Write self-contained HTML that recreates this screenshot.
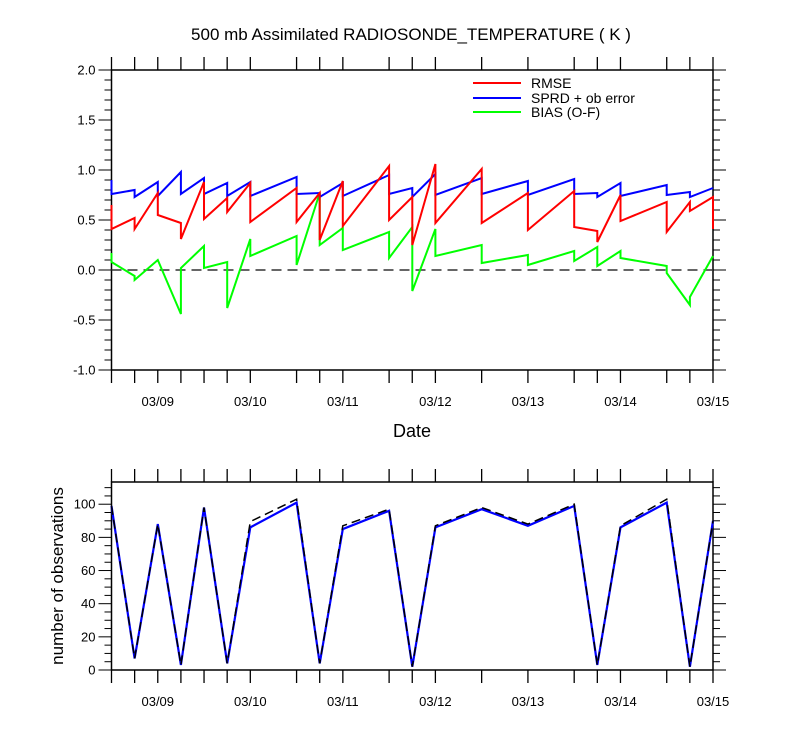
<!DOCTYPE html>
<html><head><meta charset="utf-8"><style>
html,body{margin:0;padding:0;background:#fff;}
svg{display:block;font-family:"Liberation Sans",sans-serif;}
</style></head><body>
<svg id="chart" width="800" height="750" viewBox="0 0 800 750" xmlns="http://www.w3.org/2000/svg">
<rect width="800" height="750" fill="#fff"/>
<text x="411" y="40" font-size="17" text-anchor="middle">500 mb Assimilated RADIOSONDE_TEMPERATURE ( K )</text>
<g id="topPanel"></g>
<g id="botPanel"></g>
<text x="412" y="437" font-size="18" text-anchor="middle">Date</text>
<text transform="translate(63,576) rotate(-90)" font-size="17" text-anchor="middle">number of observations</text>
<g>
<line x1="473" y1="83" x2="521" y2="83" stroke="#ff0000" stroke-width="2"/>
<text x="531" y="88" font-size="14">RMSE</text>
<line x1="473" y1="98" x2="521" y2="98" stroke="#0000ff" stroke-width="2"/>
<text x="531" y="103" font-size="14">SPRD + ob error</text>
<line x1="473" y1="112" x2="521" y2="112" stroke="#00ff00" stroke-width="2"/>
<text x="531" y="117" font-size="14">BIAS (O-F)</text>
</g>
</svg>
<script>
// time index (6-hourly steps from 03/08 12Z)
const times=[0,1,2,3,4,5,6,8,9,10,12,13,14,16,18,20,21,22,24,25,26];
const dateLabels=["03/09","03/10","03/11","03/12","03/13","03/14","03/15"];
const dateLabelTimes=[2,6,10,14,18,22,26];
// each time has [arriving value, departing value]
const rmseA=[0.65,0.52,0.77,0.47,0.88,0.72,0.87,0.82,0.77,0.89,1.04,0.73,1.06,1.01,0.77,0.79,0.39,0.75,0.68,0.68,0.73];
const rmseB=[0.41,0.41,0.55,0.31,0.51,0.58,0.48,0.48,0.30,0.44,0.50,0.25,0.47,0.47,0.40,0.43,0.28,0.49,0.38,0.59,0.41];
const sprdA=[0.90,0.80,0.88,0.98,0.92,0.87,0.88,0.93,0.77,0.87,0.95,0.82,0.96,0.92,0.89,0.91,0.77,0.87,0.85,0.78,0.82];
const sprdB=[0.76,0.73,0.74,0.76,0.76,0.74,0.74,0.76,0.73,0.74,0.76,0.73,0.75,0.76,0.75,0.76,0.73,0.74,0.75,0.73,0.82];
const biasA=[0.17,-0.06,0.10,-0.44,0.24,0.08,0.31,0.34,0.77,0.42,0.38,0.43,0.41,0.25,0.15,0.19,0.23,0.19,0.04,-0.35,0.14];
const biasB=[0.08,-0.10,0.10,0.02,0.02,-0.38,0.14,0.05,0.25,0.20,0.12,-0.21,0.14,0.07,0.05,0.09,0.04,0.12,-0.03,-0.27,0.14];
const obsTotal=[99,7,88,3,98,4,89.5,103,4,87,97,2,87,98,88,100,3,87,103,2,90];
const obsUsed=[99,7,88,3,98,4,86,101,4,85,96,2,86,97,87,99,3,86,101,2,90];
const topTicks=["-1.0","-0.5","0.0","0.5","1.0","1.5","2.0"];
const topTickVals=[-1,-0.5,0,0.5,1,1.5,2];
const botTickVals=[0,20,40,60,80,100];

const NS="http://www.w3.org/2000/svg";
const X0=111.5,X1=713,T0=0,T1=26;
function xs(t){return X0+(t-T0)/(T1-T0)*(X1-X0);}
const TT=70,TB=370,TV0=-1,TV1=2;
function ytop(v){return TB-(v-TV0)/(TV1-TV0)*(TB-TT);}
const BT=482,BB=670,BV0=0,BV1=113.4;
function ybot(v){return BB-(v-BV0)/(BV1-BV0)*(BB-BT);}
function mk(tag,attrs,parent){const e=document.createElementNS(NS,tag);for(const k in attrs)e.setAttribute(k,attrs[k]);parent.appendChild(e);return e;}
const topG=document.getElementById('topPanel'),botG=document.getElementById('botPanel');

function frame(g,yT,yB){
  const r=mk('rect',{x:X0,y:yT,width:X1-X0,height:yB-yT,fill:'none',stroke:'#000','stroke-width':1.5},g);
  
  
  times.forEach(t=>{
    const x=xs(t);
    const l1=mk('line',{x1:x,y1:yB,x2:x,y2:yB+13,stroke:'#000','stroke-width':1.3},g);
    
    
    const l2=mk('line',{x1:x,y1:yT,x2:x,y2:yT-13,stroke:'#000','stroke-width':1.3},g);
    
    
  });
  dateLabels.forEach((s,i)=>{
    const tx=mk('text',{x:xs(dateLabelTimes[i]),y:yB+36,'font-size':13,'text-anchor':'middle'},g);
    tx.textContent=s;
    
    
  });
}
function yticks(g,vals,labels,yf,minorStep,v0,v1){
  for(let v=v0;v<=v1+1e-9;v+=minorStep){
    const y=yf(v);const isMaj=vals.some(m=>Math.abs(m-v)<1e-6);
    const len=isMaj?13:7;
    const a=mk('line',{x1:X0,y1:y,x2:X0-len,y2:y,stroke:'#000','stroke-width':1},g);
    
    
    const b=mk('line',{x1:X1,y1:y,x2:X1+len,y2:y,stroke:'#000','stroke-width':1},g);
    
    
  }
  vals.forEach((v,i)=>{
    const tx=mk('text',{x:X0-16,y:yf(v)+4.5,'font-size':13,'text-anchor':'end'},g);
    tx.textContent=labels[i];
    
    
  });
}
frame(topG,TT,TB);
yticks(topG,topTickVals,topTicks,ytop,0.1,-1,2);
const zl=mk('line',{x1:X0,y1:ytop(0),x2:X1,y2:ytop(0),stroke:'#333','stroke-width':1.5,'stroke-dasharray':'10,6'},topG);


function saw(A,B,color,name){
  let d='';
  times.forEach((t,i)=>{const x=xs(t);d+=(i?'L':'M')+x.toFixed(1)+','+ytop(A[i]).toFixed(1)+'L'+x.toFixed(1)+','+ytop(B[i]).toFixed(1);});
  const p=mk('path',{d:d,fill:'none',stroke:color,'stroke-width':2,'stroke-linejoin':'miter'},topG);
  
  
}
saw(biasA,biasB,'#00ff00','bias-line');
saw(sprdA,sprdB,'#0000ff','sprd-line');
saw(rmseA,rmseB,'#ff0000','rmse-line');

frame(botG,BT,BB);
yticks(botG,botTickVals,botTickVals.map(String),ybot,5,0,110);
function line(vals,color,name,dash,w){
  let d='';
  times.forEach((t,i)=>{d+=(i?'L':'M')+xs(t).toFixed(1)+','+ybot(vals[i]).toFixed(1);});
  const p=mk('path',{d:d,fill:'none',stroke:color,'stroke-width':w},botG);
  if(dash)p.setAttribute('stroke-dasharray',dash);
  
  
}
line(obsUsed,'#0000ff','obs-used-line',null,2.2);
line(obsTotal,'#000','obs-total-line','9,5',1.5);
</script>
</body></html>
